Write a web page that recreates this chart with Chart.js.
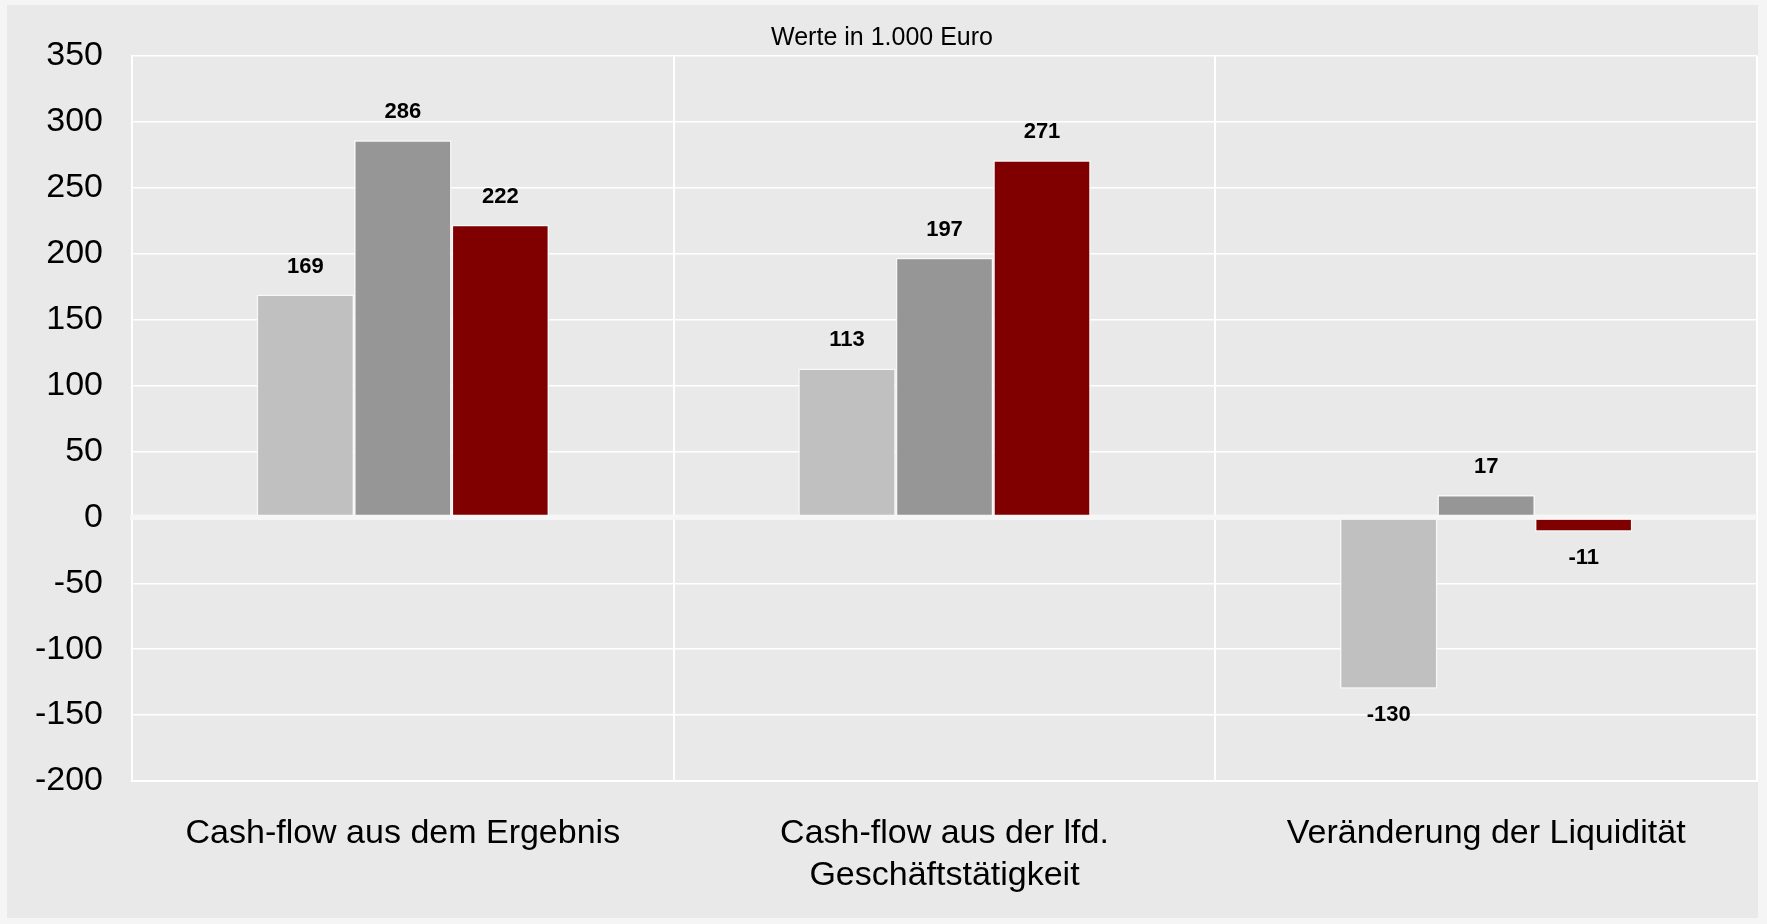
<!DOCTYPE html>
<html lang="de">

<head>
	<meta charset="utf-8">
	<title>Cash-flow Vergleich</title>
	<script src="https://cdn.jsdelivr.net/npm/chart.js@4.4.1/dist/chart.umd.min.js"></script>
	<style>
		html,
		body {
			margin: 0;
			height: 100%;
			background: #f5f5f5;
			overflow: hidden;
		}

		#wrap {
			position: absolute;
			left: 7px;
			top: 5px;
			width: 1751px;
			height: 913px;
			background: #e8e9e8;
		}
	</style>
</head>

<body>
	<div id="wrap"><canvas id="cfChart"></canvas></div>

	<script>
		// chart values (in 1.000 Euro)
		var categories = [
			"Cash-flow aus dem Ergebnis",
			["Cash-flow aus der lfd.", "Geschäftstätigkeit"],
			"Veränderung der Liquidität"
		]
		var seriesNames = ["Jahr 1", "Jahr 2", "Jahr 3"]
		var jahr1 = [169, 113, -130]
		var jahr2 = [286, 197, 17]
		var jahr3 = [222, 271, -11]
		var seriesColours = ["#c0c0c0", "#969696", "#800000"]
		var yMin = -200, yMax = 350, yStep = 50

		var fontFamily = "'Liberation Sans', Arial, sans-serif"

		// value labels above / below every bar
		var barLabels = {
			id: "barLabels",
			afterDatasetsDraw(chart) {
				var ctx = chart.ctx
				ctx.save()
				ctx.font = "bold 22px " + fontFamily
				ctx.fillStyle = "#000"
				ctx.textAlign = "center"
				ctx.textBaseline = "alphabetic"
				chart.data.datasets.forEach(function (ds, i) {
					chart.getDatasetMeta(i).data.forEach(function (bar, j) {
						var v = ds.data[j]
						if (v >= 0) {
							ctx.fillText(String(v), bar.x, bar.y - 22)
						}
						else {
							ctx.fillText(String(v), bar.x, bar.y + 32)
						}
					})
				})
				ctx.restore()
			}
		}

		// thick zero line, drawn under and over the bars
		function drawZero(chart) {
			var y = chart.scales.y.getPixelForValue(0)
			var ctx = chart.ctx
			ctx.save()
			ctx.strokeStyle = "#f6f6f6"
			ctx.lineWidth = 5
			ctx.beginPath()
			ctx.moveTo(chart.chartArea.left - 2, y)
			ctx.lineTo(chart.chartArea.right, y)
			ctx.stroke()
			ctx.restore()
		}
		var zeroLine = {
			id: "zeroLine",
			beforeDatasetsDraw: drawZero,
			afterDatasetsDraw: drawZero
		}

		var seriesData = [jahr1, jahr2, jahr3]
		var datasets = []
		for (var i = 0; i < seriesData.length; i++) {
			datasets.push({
				label: seriesNames[i],
				data: seriesData[i],
				backgroundColor: seriesColours[i],
				borderColor: "#f8f8f8",
				borderWidth: 1.5,
				borderSkipped: false,
				categoryPercentage: 0.54,
				barPercentage: 1.0
			})
		}

		var cfChart = new Chart("cfChart", {
			type: "bar",
			data: {
				labels: categories,
				datasets: datasets
			},
			options: {
				responsive: true,
				maintainAspectRatio: false,
				animation: false,
				layout: {
					padding: { left: 0, right: 1, top: 0, bottom: 0 }
				},
				plugins: {
					legend: { display: false },
					tooltip: { enabled: false },
					title: {
						display: true,
						text: "Werte in 1.000 Euro",
						color: "#000",
						font: { family: fontFamily, size: 25, weight: "normal" },
						padding: { top: 18, bottom: 3 }
					}
				},
				scales: {
					x: {
						grid: {
							color: "#ffffff",
							lineWidth: 2,
							drawTicks: false,
							offset: true
						},
						border: { display: true, color: "#ffffff", width: 2 },
						ticks: {
							color: "#000",
							padding: 31,
							maxRotation: 0,
							autoSkip: false,
							font: { family: fontFamily, size: 34, lineHeight: 1.25 }
						},
						afterFit: function (scale) {
							scale.height = 137
						}
					},
					y: {
						min: yMin,
						max: yMax,
						grid: {
							color: "#ffffff",
							lineWidth: 1.5,
							drawTicks: false
						},
						border: { display: true, color: "#ffffff", width: 2 },
						ticks: {
							stepSize: yStep,
							color: "#000",
							padding: 29,
							font: { family: fontFamily, size: 34 }
						},
						afterFit: function (scale) {
							scale.width = 125
						}
					}
				}
			},
			plugins: [zeroLine, barLabels]
		});
	</script>
</body>

</html>
